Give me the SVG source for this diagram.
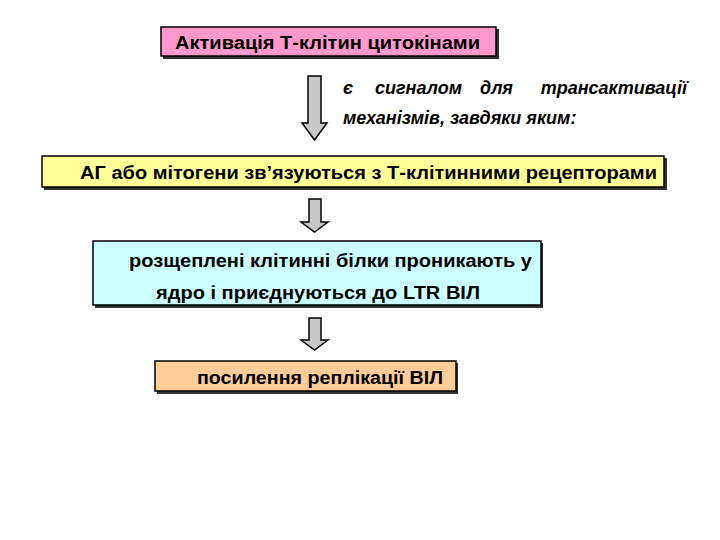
<svg xmlns="http://www.w3.org/2000/svg" width="720" height="540" viewBox="0 0 720 540">
<style>
.box{stroke:#000;stroke-width:1.5}
.sh{fill:#333}
.t{font-family:"Liberation Sans",Arial,sans-serif;font-weight:bold;font-size:17.5px;fill:#000}
.it{font-family:"Liberation Sans",Arial,sans-serif;font-weight:bold;font-style:italic;font-size:18px;fill:#000}
.arr{fill:#C8C8C8;stroke:#000;stroke-width:1.5;stroke-linejoin:miter}
</style>
<rect width="720" height="540" fill="#fff"/>
<g id="n1">
<rect class="sh" x="163" y="29" width="336" height="30"/>
<rect class="box" x="161" y="27" width="335" height="29" fill="#FF99CC"/>
<text class="t" x="175" y="49" textLength="305" lengthAdjust="spacingAndGlyphs">Активація Т-клітин цитокінами</text>
</g>
<g id="note">
<text class="it" x="343" y="94">є</text>
<text class="it" x="375" y="94">сигналом</text>
<text class="it" x="480" y="94">для</text>
<text class="it" x="687" y="94" text-anchor="end">трансактивації</text>
<text class="it" x="343" y="124">механізмів, завдяки яким:</text>
</g>
<g id="n2">
<rect class="sh" x="44" y="158" width="623" height="32"/>
<rect class="box" x="42" y="156" width="622" height="31" fill="#FFFF99"/>
<text class="t" x="80" y="179" textLength="577" lengthAdjust="spacingAndGlyphs">АГ або мітогени зв’язуються з Т-клітинними рецепторами</text>
</g>
<g id="n3">
<rect class="sh" x="95" y="243" width="448" height="65"/>
<rect class="box" x="93" y="241" width="448" height="64" fill="#CCFFFF"/>
<text class="t" x="129" y="267" textLength="403" lengthAdjust="spacingAndGlyphs">розщеплені клітинні білки проникають у</text>
<text class="t" x="156" y="299" textLength="324" lengthAdjust="spacingAndGlyphs">ядро і приєднуються до LTR ВІЛ</text>
</g>
<g id="n4">
<rect class="sh" x="157" y="363" width="301" height="31"/>
<rect class="box" x="155" y="361" width="301" height="30" fill="#FFCC99"/>
<text class="t" x="197" y="384" textLength="246" lengthAdjust="spacingAndGlyphs">посилення реплікації ВІЛ</text>
</g>
<g id="connectors">
<polygon class="arr" points="308,76 321,76 321,123 327,123 314.5,140 302,123 308,123"/>
<polygon class="arr" points="309,199 321,199 321,222 328,222 314.5,232 301,222 309,222"/>
<polygon class="arr" points="309,318 321,318 321,340 328,340 314.5,350 301,340 309,340"/>
</g>
</svg>
